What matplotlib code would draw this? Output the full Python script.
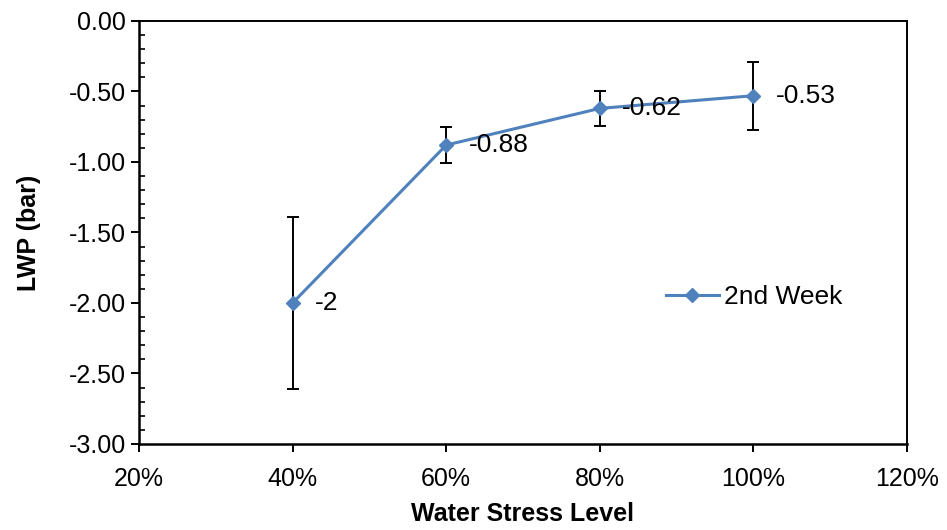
import matplotlib
matplotlib.use("Agg")
import matplotlib.pyplot as plt
from matplotlib.ticker import MultipleLocator, FuncFormatter

plt.rcParams['font.family'] = ['Liberation Sans', 'DejaVu Sans']

stress_levels = [0.40, 0.60, 0.80, 1.00]
lwp_values = [-2.0, -0.88, -0.62, -0.53]
lwp_errors = [0.61, 0.125, 0.125, 0.24]
point_labels = ["-2", "-0.88", "-0.62", "-0.53"]
series_name = "2nd Week"

fig = plt.figure(figsize=(9.47, 5.30), dpi=100)
ax = fig.add_axes([0.1468, 0.1623, 0.8109, 0.7981])

color = '#4F81BD'
ax.errorbar(stress_levels, lwp_values, yerr=lwp_errors, fmt='none',
            ecolor='black', elinewidth=1.4, capsize=4.5, capthick=1.4, zorder=2)
ax.plot(stress_levels, lwp_values, color=color, lw=2.2, marker='D',
        markersize=7.5, markerfacecolor=color, markeredgecolor=color,
        label=series_name, zorder=3)

for x, y, lab in zip(stress_levels, lwp_values, point_labels):
    ax.annotate(lab, (x, y), xytext=(16, 0), textcoords='offset points',
                ha='left', va='center', fontsize=19)

ax.set_xlim(0.2, 1.2)
ax.set_ylim(-3.0, 0.0)
ax.xaxis.set_major_locator(MultipleLocator(0.2))
ax.xaxis.set_major_formatter(FuncFormatter(lambda v, p: f"{v*100:.0f}%"))
ax.yaxis.set_major_locator(MultipleLocator(0.5))
ax.yaxis.set_minor_locator(MultipleLocator(0.1))
ax.yaxis.set_major_formatter(FuncFormatter(lambda v, p: f"{v:.2f}"))

ax.tick_params(axis='both', which='major', direction='out', length=5.5,
               width=1.4, labelsize=18, colors='black')
ax.tick_params(axis='x', which='major', pad=11)
ax.tick_params(axis='y', which='major', pad=4)
ax.tick_params(axis='y', which='minor', direction='in', length=4.5, width=1.2)

for s in ax.spines.values():
    s.set_linewidth(1.4)
    s.set_color('black')
ax.spines['left'].set_linewidth(1.8)
ax.spines['bottom'].set_linewidth(1.8)

ax.set_xlabel("Water Stress Level", fontsize=18, fontweight='bold', labelpad=8)
ax.set_ylabel("LWP (bar)", fontsize=18, fontweight='bold', labelpad=20)

leg = ax.legend(loc='center left', bbox_to_anchor=(0.655, 0.347), frameon=False,
                fontsize=19, handlelength=2.0, handletextpad=0.2)

fig.savefig("out.png", dpi=100)
